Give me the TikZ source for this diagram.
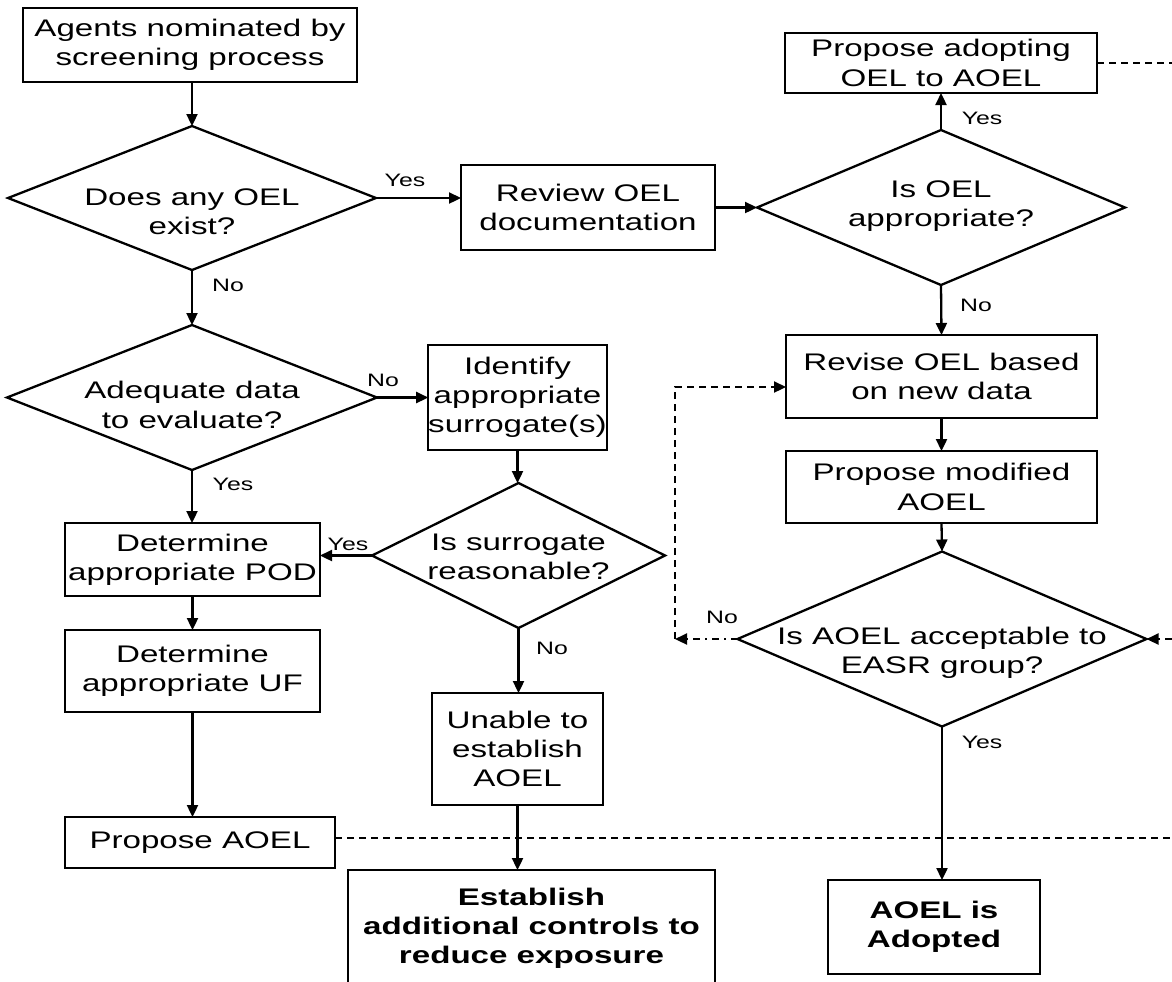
\documentclass[tikz,border=0pt]{standalone}
\usepackage{fontspec}
\setmainfont[FakeStretch=1.38]{Liberation Sans}
\usetikzlibrary{shapes.geometric,arrows.meta,calc}
\begin{document}
\begin{tikzpicture}[x=0.5pt,y=-0.5pt,
  every node/.style={inner sep=0pt,outer sep=0pt},
  stepbox/.style={draw,line width=1.15pt,align=center,font=\fontsize{12pt}{14.6pt}\selectfont},
  boldbox/.style={stepbox,font=\fontsize{12pt}{14.6pt}\selectfont\bfseries},
  dia/.style={draw,diamond,line width=1.15pt},
  dtext/.style={align=center,font=\fontsize{12pt}{14.6pt}\selectfont},
  lab/.style={font=\fontsize{9pt}{10pt}\selectfont},
  conn/.style={line width=1.15pt,-{Triangle[length=6pt,width=5.5pt]}},
  dline/.style={line width=1.1pt,dash pattern=on 3.5pt off 2.5pt},
  darrow/.style={dline,-{Triangle[length=6pt,width=5.5pt]}},
  ddarrow/.style={line width=1.1pt,dash pattern=on 3.5pt off 2.5pt on 1pt off 2.5pt,-{Triangle[length=6pt,width=5.5pt]}}
]
\useasboundingbox (0,0) rectangle (1172,981);
\clip (0,0) rectangle (1172,981);

% boxes
\node[stepbox,minimum width=167pt,minimum height=37pt] (a1) at (190,45) {Agents nominated by\\screening process};
\node[stepbox,minimum width=127pt,minimum height=42.5pt] (r1) at (588,207.5) {Review OEL\\documentation};
\node[stepbox,minimum width=156pt,minimum height=30pt] (p1) at (941,63) {Propose adopting\\OEL to AOEL};
\node[stepbox,minimum width=155.5pt,minimum height=41.5pt] (rv) at (941.5,376.5) {Revise OEL based\\on new data};
\node[stepbox,minimum width=155.5pt,minimum height=36pt] (pm) at (941.5,487) {Propose modified\\AOEL};
\node[stepbox,minimum width=85.5pt,minimum height=52.5pt] (id) at (517.5,397.5) {Identify\\appropriate\\surrogate(s)};
\node[stepbox,minimum width=127.5pt,minimum height=36.5pt] (pod) at (192.5,559.5) {Determine\\appropriate POD};
\node[stepbox,minimum width=127.5pt,minimum height=41pt] (uf) at (192.5,671) {Determine\\appropriate UF};
\node[stepbox,minimum width=135pt,minimum height=25.5pt] (pa) at (200,842.5) {Propose AOEL};
\node[stepbox,minimum width=85.5pt,minimum height=56pt] (un) at (517.5,749) {Unable to\\establish\\AOEL};
\node[boldbox,minimum width=183.5pt,minimum height=58pt] (es) at (531.5,928) {Establish\\additional controls to\\reduce exposure};
\node[boldbox,minimum width=106pt,minimum height=47pt] (ad) at (934,927) {AOEL is\\Adopted};

% diamonds
\node[dia,minimum width=184pt,minimum height=72pt] (d1) at (192,198) {};
\node[dtext] (d1t) at (192,212) {Does any OEL\\exist?};
\node[dia,minimum width=184pt,minimum height=77.5pt] (d2) at (941,207.5) {};
\node[dtext] (d2t) at (941,206) {Is OEL\\appropriate?};
\node[dia,minimum width=185pt,minimum height=72.5pt] (d4) at (192,397.5) {};
\node[dtext] (d4t) at (192,405) {Adequate data\\to evaluate?};
\node[dia,minimum width=146.5pt,minimum height=72.5pt] (d5) at (518.5,555.5) {};
\node[dtext] (d5t) at (518.5,557) {Is surrogate\\reasonable?};
\node[dia,minimum width=204.5pt,minimum height=87.5pt] (d3) at (942,639) {};
\node[dtext] (d3t) at (942,653) {Is AOEL acceptable to\\EASR group?};

% labels
\node[lab] (l1) at (405,180) {Yes};
\node[lab] (l2) at (228,285) {No};
\node[lab] (l3) at (383,380) {No};
\node[lab] (l4) at (233,484) {Yes};
\node[lab] (l5) at (348,544) {Yes};
\node[lab] (l6) at (552,648) {No};
\node[lab] (l7) at (982,118) {Yes};
\node[lab] (l8) at (976,305) {No};
\node[lab] (l9) at (722,617) {No};
\node[lab] (l10) at (982,742) {Yes};

% connectors
\draw[conn] (a1.south -| d1.north) -- (d1.north);
\draw[conn] (d1.east) -- (d1.east -| r1.west);
\draw[conn] (r1.east) -- (d2.west);
\draw[conn] (d2.north) -- (p1.south);
\draw[conn] (d2.south) -- (rv.north);
\draw[conn] (rv.south) -- (pm.north);
\draw[conn] (pm.south) -- (d3.north);
\draw[conn] (d3.south) -- (d3.south |- ad.north);
\draw[conn] (d1.south) -- (d4.north);
\draw[conn] (d4.east) -- (d4.east -| id.west);
\draw[conn] (id.south) -- (id.south |- d5.north);
\draw[conn] (d5.west) -- (d5.west -| pod.east);
\draw[conn] (d4.south) -- (d4.south |- pod.north);
\draw[conn] (pod.south) -- (uf.north);
\draw[conn] (uf.south) -- (uf.south |- pa.north);
\draw[conn] (d5.south) -- (d5.south |- un.north);
\draw[conn] (un.south) -- (un.south |- es.north);

% dashed connectors
\coordinate (e1) at (1180,63);
\coordinate (e2) at (1180,838);
\coordinate (e3) at (1172,639);
\coordinate (c1) at (675,639);
\coordinate (c2) at (675,387);
\draw[dline] (p1.east) -- (e1);
\draw[dline] (pa.east |- e2) -- (e2);
\draw[darrow] (e3) -- (d3.east);
\draw[ddarrow] (d3.west) -- (c1);
\draw[darrow] (c1) -- (c2) -- (c2 -| rv.west);
\end{tikzpicture}
\end{document}
